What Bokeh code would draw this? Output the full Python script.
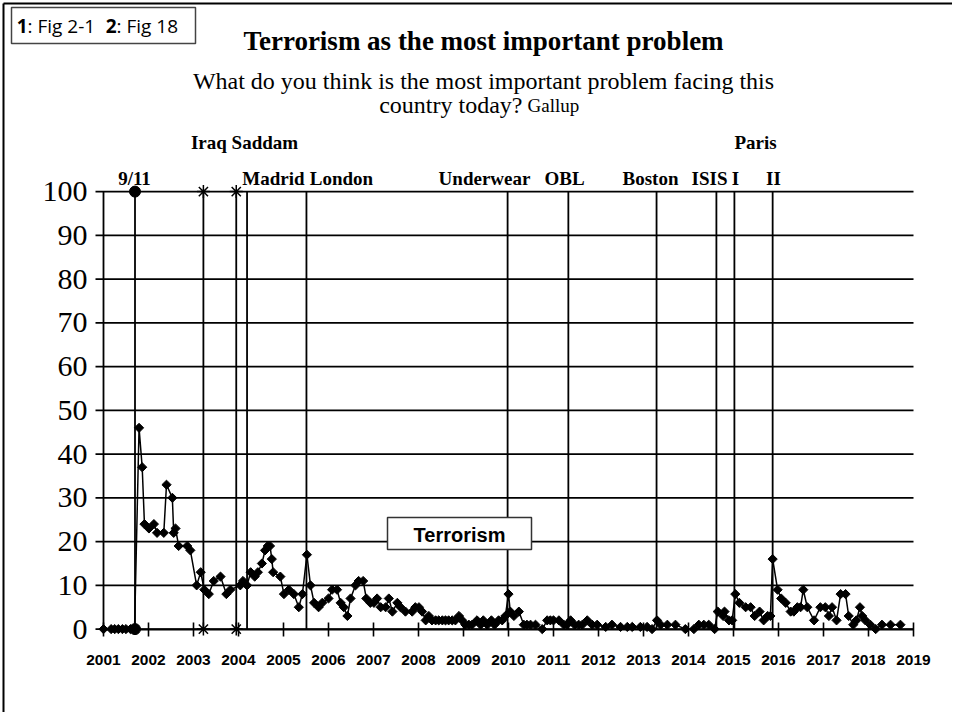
import numpy as np
from bokeh.plotting import figure
from bokeh.models import Range1d, FixedTicker, LinearAxis, BasicTickFormatter
from bokeh.core.properties import value
from bokeh.embed import file_html
from bokeh.resources import INLINE

# ---------------- data ----------------
poll_date = [
    2001.00, 2001.17, 2001.25, 2001.33, 2001.42, 2001.50, 2001.60, 2001.69,
    2001.79, 2001.86, 2001.91, 2002.01, 2002.12, 2002.19, 2002.34, 2002.40,
    2002.53, 2002.56, 2002.60, 2002.67, 2002.86, 2002.93, 2003.07, 2003.16,
    2003.24, 2003.34, 2003.45, 2003.60, 2003.73, 2003.82, 2004.04, 2004.10,
    2004.19, 2004.27, 2004.36, 2004.43, 2004.52, 2004.59, 2004.65, 2004.70,
    2004.74, 2004.77, 2004.93, 2005.01, 2005.12, 2005.23, 2005.34, 2005.42,
    2005.52, 2005.60, 2005.68, 2005.78, 2005.86, 2006.00, 2006.08, 2006.19,
    2006.27, 2006.34, 2006.42, 2006.49, 2006.60, 2006.67, 2006.77, 2006.84,
    2006.93, 2007.01, 2007.08, 2007.16, 2007.27, 2007.34, 2007.42, 2007.53,
    2007.60, 2007.71, 2007.86, 2007.93, 2008.01, 2008.08, 2008.16, 2008.23,
    2008.30, 2008.38, 2008.45, 2008.53, 2008.60, 2008.67, 2008.75, 2008.82,
    2008.90, 2008.97, 2009.04, 2009.12, 2009.19, 2009.30, 2009.38, 2009.44,
    2009.53, 2009.62, 2009.69, 2009.78, 2009.86, 2009.93, 2010.00, 2010.04,
    2010.12, 2010.23, 2010.34, 2010.41, 2010.49, 2010.60, 2010.75, 2010.86,
    2010.93, 2011.00, 2011.12, 2011.23, 2011.30, 2011.38, 2011.47, 2011.56,
    2011.64, 2011.75, 2011.86, 2011.97, 2012.16, 2012.30, 2012.49, 2012.64,
    2012.75, 2012.93, 2013.08, 2013.19, 2013.30, 2013.38, 2013.53, 2013.71,
    2013.93, 2014.12, 2014.23, 2014.34, 2014.45, 2014.58, 2014.65, 2014.77,
    2014.80, 2014.90, 2014.97, 2015.04, 2015.13, 2015.27, 2015.38, 2015.47,
    2015.58, 2015.67, 2015.76, 2015.82, 2015.87, 2015.98, 2016.06, 2016.16,
    2016.27, 2016.34, 2016.42, 2016.49, 2016.55, 2016.64, 2016.79, 2016.93,
    2017.04, 2017.12, 2017.19, 2017.29, 2017.38, 2017.49, 2017.56, 2017.66,
    2017.73, 2017.81, 2017.86, 2017.93, 2018.04, 2018.16, 2018.30, 2018.49,
    2018.71,
]
terrorism_pct = [
    0, 0, 0, 0, 0, 0, 0, 0,
    46, 37, 24, 23, 24, 22, 22, 33,
    30, 22, 23, 19, 19, 18, 10, 13,
    9, 8, 11, 12, 8, 9, 10, 11,
    10, 13, 12, 13, 15, 18, 19, 19,
    16, 13, 12, 8, 9, 8, 5, 8,
    17, 10, 6, 5, 6, 7, 9, 9,
    6, 5, 3, 7, 10, 11, 11, 7,
    6, 6, 7, 5, 5, 7, 4, 6,
    5, 4, 4, 5, 5, 4, 2, 3,
    2, 2, 2, 2, 2, 2, 2, 2,
    3, 2, 1, 1, 1, 2, 1, 2,
    1, 2, 1, 2, 2, 3, 8, 4,
    3, 4, 1, 1, 1, 1, 0, 2,
    2, 2, 2, 1, 1, 2, 1, 1,
    1, 2, 1, 1, 0.5, 1, 0.5, 0.5,
    0.5, 0.5, 0.5, 0, 2, 1, 1, 1,
    0, 0, 1, 1, 1, 0, 4, 3,
    4, 2, 2, 8, 6, 5, 5, 3,
    4, 2, 3, 3, 16, 9, 7, 6,
    4, 4, 5, 5, 9, 5, 2, 5,
    5, 3, 5, 2, 8, 8, 3, 1,
    2, 5, 3, 2, 1, 0, 1, 1,
    1,
]

event_names = ["9/11", "Iraq", "Saddam", "Madrid", "London", "Underwear",
               "OBL", "Boston", "ISIS", "Paris I", "Paris II"]
event_dates = [2001.70, 2003.22, 2003.95, 2004.19, 2005.51, 2009.98,
               2011.33, 2013.29, 2014.62, 2015.02, 2015.87]
dot_events = ["9/11"]
star_events = ["Iraq", "Saddam"]

year_ticks = list(range(2001, 2020))
pct_ticks = list(range(0, 101, 10))

title_text = "Terrorism as the most important problem"
subtitle_1 = "What do you think is the most important problem facing this"
subtitle_2 = "country today?"
source_text = "Gallup"
series_name = "Terrorism"

# ---------------- layout ----------------
W, H = 952, 712
X_ORG, PX_YR = 103.0, 45.0     # px of year 2001 within figure, px per year
Y_ORG, PX_PCT = 628.6, 4.375   # px (from top) of 0 %, px per percent

x_range = Range1d(2001 - X_ORG / PX_YR, 2001 + (W - X_ORG) / PX_YR)
y_range = Range1d(-(H - Y_ORG) / PX_PCT, Y_ORG / PX_PCT)


def fx(px):  # pixel -> data x
    return 2001 + (px - X_ORG) / PX_YR


def fy(py):  # pixel -> data y
    return (Y_ORG - py) / PX_PCT


SERIF = value("Liberation Serif")
INK = "black"

p = figure(width=W, height=H, x_range=x_range, y_range=y_range,
           output_backend="svg", toolbar_location=None,
           x_axis_type=None, y_axis_type=None, min_border=0,
           outline_line_color=None, background_fill_color="white",
           border_fill_color="white")

# outer border (left and top)
p.segment(x0=[fx(3), fx(3)], y0=[y_range.start, fy(3)],
          x1=[fx(3), x_range.end], y1=[fy(3), fy(3)],
          line_color=INK, line_width=2)

# horizontal grid lines (extend a little left of the y axis as ticks)
gx0 = 2001 - 8 / PX_YR
p.segment(x0=[gx0] * len(pct_ticks), y0=pct_ticks,
          x1=[year_ticks[-1]] * len(pct_ticks), y1=pct_ticks,
          line_color=INK, line_width=1.8)

# event lines
p.segment(x0=event_dates, y0=[0] * len(event_dates),
          x1=event_dates, y1=[100] * len(event_dates),
          line_color=INK, line_width=1.8)

dot_x = [d for n, d in zip(event_names, event_dates) if n in dot_events]
p.scatter(x=dot_x * 2, y=[0] * len(dot_x) + [100] * len(dot_x),
          marker="circle", size=11, color=INK)
star_x = [d for n, d in zip(event_names, event_dates) if n in star_events]
p.scatter(x=star_x * 2, y=[0] * len(star_x) + [100] * len(star_x),
          marker="asterisk", size=13, line_color=INK, line_width=1.5)

# the series
p.line(poll_date, terrorism_pct, line_color=INK, line_width=1.5)
p.scatter(poll_date, terrorism_pct, marker="square", angle=np.pi / 4,
          size=6.5, color=INK)

# axes
xa = LinearAxis(fixed_location=0, bounds=(year_ticks[0], year_ticks[-1]),
                ticker=FixedTicker(ticks=year_ticks),
                formatter=BasicTickFormatter(use_scientific=False),
                axis_line_width=1.8, axis_line_color=INK,
                major_tick_in=7, major_tick_out=7, major_tick_line_width=1.6,
                minor_tick_line_color=None, major_label_standoff=19,
                major_label_text_font="Liberation Sans",
                major_label_text_font_style="bold",
                major_label_text_font_size="15.5px",
                major_label_text_color=INK)
p.add_layout(xa, "below")

ya = LinearAxis(fixed_location=2001, bounds=(pct_ticks[0], pct_ticks[-1]),
                ticker=FixedTicker(ticks=pct_ticks),
                axis_line_width=1.8, axis_line_color=INK,
                major_tick_in=0, major_tick_out=0,
                minor_tick_line_color=None, major_label_standoff=16,
                major_label_text_font="Liberation Serif",
                major_label_text_font_size="30px",
                major_label_text_color=INK)
p.add_layout(ya, "left")

# legend-like box
p.quad(left=[fx(387)], right=[fx(531)], top=[fy(517)], bottom=[fy(549)],
       fill_color="white", line_color="#333333", line_width=1.5)
p.text(x=[fx(459)], y=[fy(534)], text=[series_name],
       text_font=value("Liberation Sans"), text_font_style="bold",
       text_font_size="20px", text_align="center", text_baseline="middle",
       text_color=INK)

# top-left box
p.quad(left=[fx(11)], right=[fx(195)], top=[fy(7)], bottom=[fy(43)],
       fill_color="white", line_color="#444444", line_width=1.5)
BOX_FONT = value("Open Sans")
for txt, px, bold, align in [("1", 27, True, "right"),
                             (": Fig 2-1", 27, False, "left"),
                             ("2", 116, True, "right"),
                             (": Fig 18", 116, False, "left")]:
    p.text(x=[fx(px)], y=[fy(25)], text=[txt], text_font=BOX_FONT,
           text_font_style="bold" if bold else "normal",
           text_font_size="19px", text_align=align, text_baseline="middle",
           text_color=INK)

# titles
p.text(x=[fx(483)], y=[fy(40)], text=[title_text], text_font=SERIF,
       text_font_style="bold", text_font_size="27px", text_align="center",
       text_baseline="middle", text_color=INK)
p.text(x=[fx(483)], y=[fy(80)], text=[subtitle_1], text_font=SERIF,
       text_font_size="24px", text_align="center", text_baseline="middle",
       text_color=INK)
p.text(x=[fx(522)], y=[fy(104)], text=[subtitle_2], text_font=SERIF,
       text_font_size="24px", text_align="right", text_baseline="middle",
       text_color=INK)
p.text(x=[fx(527)], y=[fy(105)], text=[source_text], text_font=SERIF,
       text_font_size="19px", text_align="left", text_baseline="middle",
       text_color=INK)

# event labels
label_rows = [
    ("9/11", 134, 178), ("Iraq Saddam", 244, 142), ("Madrid", 273, 178),
    ("London", 341, 178), ("Underwear", 484, 178), ("OBL", 564, 178),
    ("Boston", 650, 178), ("ISIS", 709, 178), ("I", 735, 178),
    ("Paris", 755, 142), ("II", 773, 178),
]
p.text(x=[fx(r[1]) for r in label_rows], y=[fy(r[2]) for r in label_rows],
       text=[r[0] for r in label_rows], text_font=SERIF,
       text_font_style="bold", text_font_size="19px", text_align="center",
       text_baseline="middle", text_color=INK)

open("out.html", "w").write(file_html(p, INLINE))
